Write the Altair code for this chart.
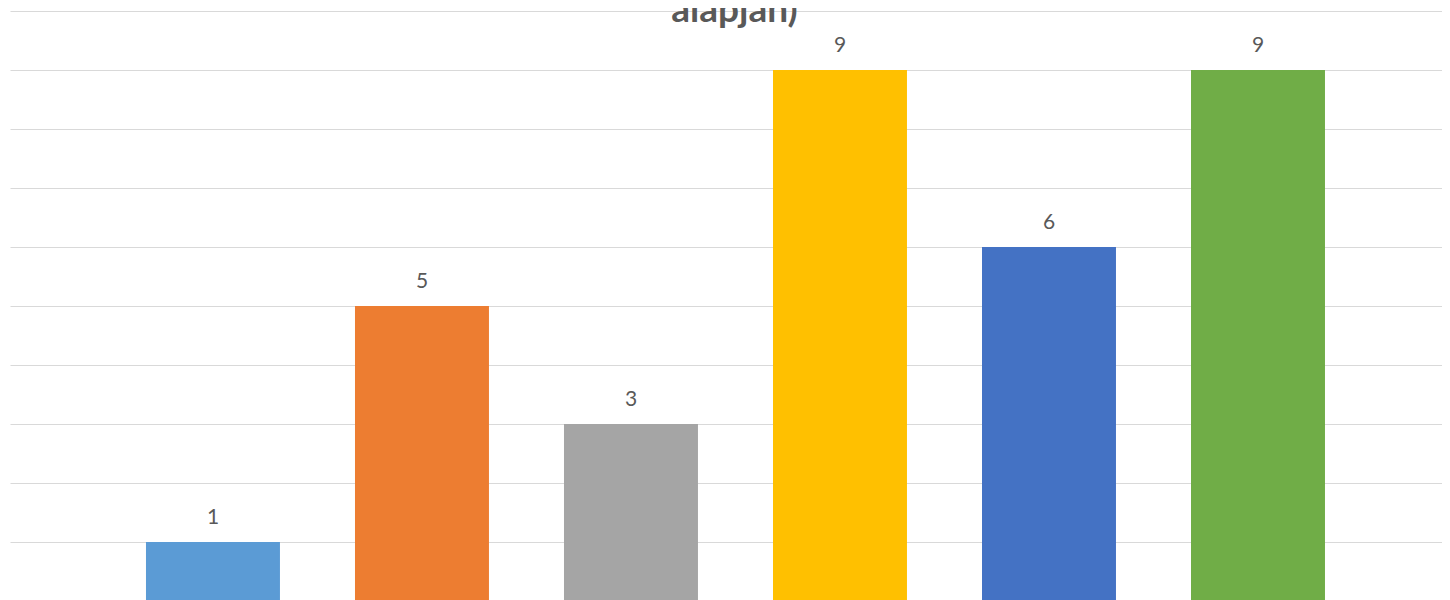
import altair as alt
import pandas as pd

categories = ["A", "B", "C", "D", "E", "F"]
values = [1, 5, 3, 9, 6, 9]
colors = ["#5B9BD5", "#ED7D31", "#A5A5A5", "#FFC000", "#4472C4", "#70AD47"]
title_lines = ["alapján)"]

df = pd.DataFrame({"cat": categories, "val": values, "color": colors})
tdf = pd.DataFrame({"t": title_lines})

x = alt.X("cat:N", sort=categories,
          scale=alt.Scale(paddingInner=0.359, paddingOuter=0.6244, align=0.521),
          axis=None)
y = alt.Y("val:Q", scale=alt.Scale(domain=[0, 10], nice=False),
          axis=alt.Axis(values=list(range(0, 11)), grid=True, gridColor="#D9D9D9",
                        gridWidth=1, domain=False, ticks=False, labels=False, title=None))

bars = alt.Chart(df).mark_bar().encode(
    x=x, y=y, color=alt.Color("color:N", scale=None)
)
labels = alt.Chart(df).mark_text(
    baseline="alphabetic", dy=-18, fontSize=21, font="Lato", color="#595959"
).encode(x=x, y="val:Q", text="val:Q")

title = alt.Chart(tdf).mark_text(
    baseline="alphabetic", align="center", fontSize=37, fontWeight="bold",
    font="Lato", color="#595959"
).encode(x=alt.value(724.5), y=alt.value(10.5), text="t:N")

chart = alt.layer(bars, labels, title).properties(
    width=1440, height=590,
    autosize=alt.AutoSizeParams(type="none"),
    padding={"left": 2, "top": 3, "right": -8, "bottom": 0},
).configure_view(stroke=None)

chart.save("out.html", embed_options={"renderer": "svg", "actions": False})
